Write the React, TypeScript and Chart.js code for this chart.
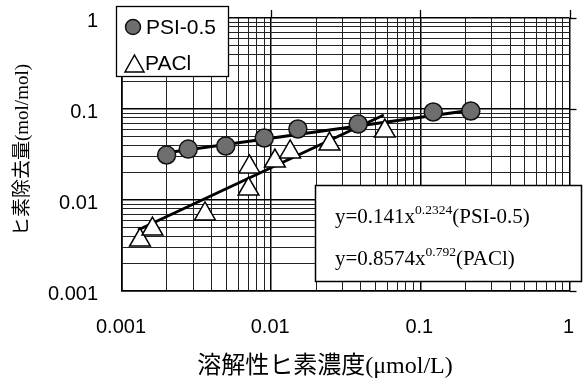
import React, { useEffect, useRef } from 'react';
import { Chart, registerables } from 'chart.js';

Chart.register(...registerables);

// ---- data ----
const psiX = [0.00199, 0.00278, 0.00496, 0.00899, 0.0151, 0.0383, 0.122, 0.218];
const psiY = [0.0312, 0.0363, 0.0392, 0.048, 0.0603, 0.0684, 0.0927, 0.0951];
const paclX = [0.00132, 0.0016, 0.0036, 0.00705, 0.00715, 0.0106, 0.0134, 0.0246, 0.0578];
const paclY = [0.00363, 0.0048, 0.00702, 0.0132, 0.0231, 0.0268, 0.0337, 0.0412, 0.0573];
const psiFitX = [0.002, 0.218];
const psiFitY = [0.033, 0.097];
const paclFitX = [0.00128, 0.0569];
const paclFitY = [0.00468, 0.0859];

const decades = [0.001, 0.01, 0.1];
const multipliers = [1, 2, 3, 4, 5, 6, 7, 8, 9];
const axisMax = 1;
const majorTickLabels = ['0.001', '0.01', '0.1', '1'];
const seriesNames = ['PSI-0.5', 'PACl'];
const eqBase = ['y=0.141x', 'y=0.8574x'];
const eqExp = ['0.2324', '0.792'];
const eqTail = ['(PSI-0.5)', '(PACl)'];
const xTitle = '溶解性ヒ素濃度(μmol/L)';
const yTitle = 'ヒ素除去量(mol/mol)';

const tickValues = [
  ...decades.flatMap((d) => multipliers.map((m) => Number((d * m).toPrecision(4)))),
  axisMax,
];

const isMajor = (v: number | undefined) => {
  if (v === undefined || v === null) return false;
  const l = Math.log10(v);
  return Math.abs(l - Math.round(l)) < 1e-6;
};
const majorLabel = (v: number) => {
  const idx = Math.round(Math.log10(v)) + 3;
  return majorTickLabels[idx] ?? '';
};

const SANS = '"Liberation Sans", Arial, sans-serif';
const SERIF = '"Liberation Serif", "Noto Sans CJK JP", serif';

const CIRCLE_FILL = '#6e6e6e';

const overlayPlugin = {
  id: 'overlay',
  afterDatasetsDraw(chart: any) {
    const { ctx, chartArea, scales } = chart;
    const xs = scales.x;
    const ys = scales.y;
    ctx.save();
    // major tick stubs outside top / right
    ctx.strokeStyle = '#000';
    ctx.lineWidth = 1.3;
    tickValues.filter(isMajor).forEach((v) => {
      const px = Math.round(xs.getPixelForValue(v)) + 0.5;
      ctx.beginPath();
      ctx.moveTo(px, chartArea.top - 8);
      ctx.lineTo(px, chartArea.top);
      ctx.stroke();
      const py = Math.round(ys.getPixelForValue(v)) + 0.5;
      ctx.beginPath();
      ctx.moveTo(chartArea.right, py);
      ctx.lineTo(chartArea.right + 7, py);
      ctx.stroke();
    });

    // legend box
    ctx.fillStyle = '#fff';
    ctx.fillRect(116, 6, 112, 70);
    ctx.lineWidth = 1.3;
    ctx.strokeStyle = '#000';
    ctx.strokeRect(116.5, 6.5, 112, 70);

    // circle marker
    ctx.beginPath();
    ctx.arc(133, 27, 7.5, 0, Math.PI * 2);
    ctx.fillStyle = CIRCLE_FILL;
    ctx.fill();
    ctx.lineWidth = 1.5;
    ctx.strokeStyle = '#111';
    ctx.stroke();
    // triangle marker
    ctx.beginPath();
    ctx.moveTo(134.5, 55);
    ctx.lineTo(144, 72);
    ctx.lineTo(125, 72);
    ctx.closePath();
    ctx.fillStyle = '#fff';
    ctx.fill();
    ctx.strokeStyle = '#000';
    ctx.lineWidth = 1.5;
    ctx.stroke();

    ctx.fillStyle = '#000';
    ctx.font = `21px ${SANS}`;
    ctx.textAlign = 'left';
    ctx.textBaseline = 'middle';
    ctx.fillText(seriesNames[0], 146, 28);
    ctx.fillText(seriesNames[1], 145, 64.5);

    // equation box
    ctx.fillStyle = '#fff';
    ctx.fillRect(315, 185, 267, 97);
    ctx.strokeStyle = '#000';
    ctx.lineWidth = 1.5;
    ctx.strokeRect(315.5, 185.5, 266, 96);

    ctx.fillStyle = '#000';
    ctx.textBaseline = 'alphabetic';
    const baselines = [223, 265];
    for (let i = 0; i < 2; i++) {
      let x = 335;
      ctx.font = `21px ${SERIF}`;
      ctx.fillText(eqBase[i], x, baselines[i]);
      x += ctx.measureText(eqBase[i]).width;
      ctx.font = `13.5px ${SERIF}`;
      ctx.fillText(eqExp[i], x, baselines[i] - 9);
      x += ctx.measureText(eqExp[i]).width;
      ctx.font = `21px ${SERIF}`;
      ctx.fillText(eqTail[i], x, baselines[i]);
    }

    // axis titles
    ctx.font = `24px ${SERIF}`;
    ctx.textAlign = 'center';
    ctx.textBaseline = 'middle';
    ctx.fillText(xTitle, 325, 367);

    ctx.save();
    ctx.translate(23, 150);
    ctx.rotate(-Math.PI / 2);
    ctx.font = `19px ${SERIF}`;
    ctx.fillText(yTitle, 0, 0);
    ctx.restore();

    ctx.restore();
  },
};

const clearPadding = (s: any) => {
  s.paddingLeft = 0;
  s.paddingRight = 0;
  s.paddingTop = 0;
  s.paddingBottom = 0;
};

export default function App() {
  const ref = useRef<HTMLCanvasElement | null>(null);

  useEffect(() => {
    if (!ref.current) return;
    const gridColor = (c: any) => (isMajor(c.tick?.value) ? '#000' : '#222');
    const gridWidth = (c: any) => (isMajor(c.tick?.value) ? 1.5 : 1);
    const chart = new Chart(ref.current, {
      type: 'scatter',
      data: {
        datasets: [
          {
            label: seriesNames[0],
            data: psiX.map((x, i) => ({ x, y: psiY[i] })),
            pointStyle: 'circle',
            pointRadius: 9,
            backgroundColor: CIRCLE_FILL,
            borderColor: '#111',
            borderWidth: 1.5,
            showLine: false,
          },
          {
            label: seriesNames[1],
            data: paclX.map((x, i) => ({ x, y: paclY[i] })),
            pointStyle: 'triangle',
            pointRadius: 12,
            backgroundColor: '#fff',
            borderColor: '#000',
            borderWidth: 1.5,
            showLine: false,
          },
          {
            label: 'fit1',
            data: psiFitX.map((x, i) => ({ x, y: psiFitY[i] })),
            showLine: true,
            pointRadius: 0,
            borderColor: '#000',
            borderWidth: 3,
          },
          {
            label: 'fit2',
            data: paclFitX.map((x, i) => ({ x, y: paclFitY[i] })),
            showLine: true,
            pointRadius: 0,
            borderColor: '#000',
            borderWidth: 3,
          },
        ],
      },
      options: {
        animation: false,
        responsive: false,
        devicePixelRatio: 1,
        layout: { padding: { top: 18, right: 8, left: 0, bottom: 0 } },
        plugins: { legend: { display: false }, tooltip: { enabled: false } },
        scales: {
          x: {
            type: 'logarithmic',
            min: 0.001,
            max: 1,
            afterBuildTicks: (s: any) => {
              s.ticks = tickValues.map((v) => ({ value: v, major: isMajor(v) }));
            },
            afterFit: (s: any) => {
              s.height = 94;
              clearPadding(s);
            },
            ticks: {
              autoSkip: false,
              maxRotation: 0,
              padding: 24,
              labelOffset: -1,
              color: '#000',
              font: { family: SANS, size: 20 },
              callback: (v: any) => (isMajor(Number(v)) ? majorLabel(Number(v)) : ''),
            },
            grid: { color: gridColor, lineWidth: gridWidth, drawTicks: false },
            border: { display: true, color: '#000', width: 1.6 },
          },
          y: {
            type: 'logarithmic',
            min: 0.001,
            max: 1,
            afterBuildTicks: (s: any) => {
              s.ticks = tickValues.map((v) => ({ value: v, major: isMajor(v) }));
            },
            afterFit: (s: any) => {
              s.width = 122;
              clearPadding(s);
            },
            ticks: {
              autoSkip: false,
              padding: 24,
              labelOffset: 3.5,
              color: '#000',
              font: { family: SANS, size: 20 },
              callback: (v: any) => (isMajor(Number(v)) ? majorLabel(Number(v)) : ''),
            },
            grid: { color: gridColor, lineWidth: gridWidth, drawTicks: false },
            border: { display: true, color: '#000', width: 1.6 },
          },
        },
      },
      plugins: [overlayPlugin],
    } as any);
    return () => chart.destroy();
  }, []);

  return (
    <div style={{ position: 'fixed', left: 0, top: 0, width: 583, height: 385, background: '#fff' }}>
      <canvas ref={ref} width={583} height={385} style={{ display: 'block' }} />
    </div>
  );
}
